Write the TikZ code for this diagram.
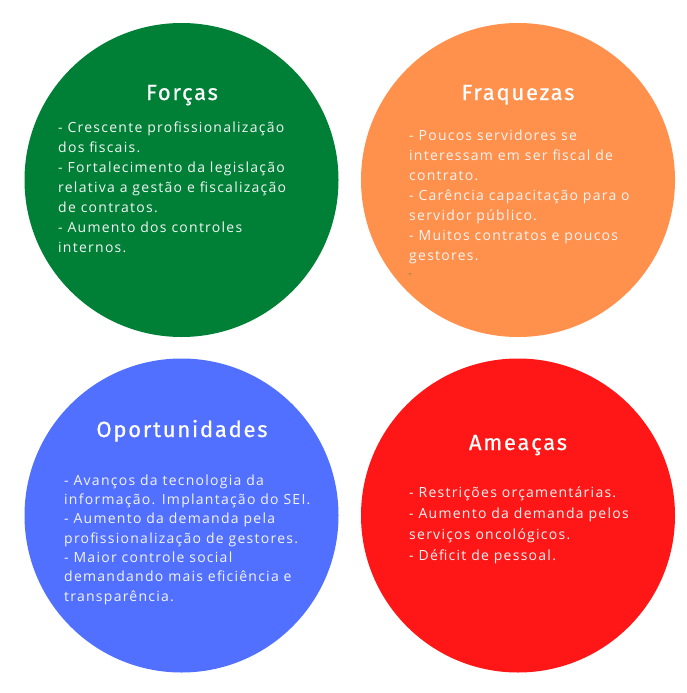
\documentclass[tikz,border=0pt]{standalone}
\usepackage{fontspec}
\setmainfont{Open Sans}
\newfontfamily\titlefont[LetterSpace=8,FakeBold=0.6]{Fira Sans}
\newfontfamily\bodyfont[LetterSpace=9]{Open Sans}
\definecolor{cgreen}{HTML}{008037}
\definecolor{corange}{HTML}{FF914D}
\definecolor{cblue}{HTML}{5170FF}
\definecolor{cred}{HTML}{FF1616}
\definecolor{ctext}{HTML}{F4F4F4}
\begin{document}
\begin{tikzpicture}[x=1pt,y=-1pt,
  disc/.style={circle, minimum size=314pt, inner sep=0pt, draw=none},
  ttl/.style={font=\titlefont\fontsize{22}{26}\selectfont, text=white, inner sep=0pt, anchor=base},
  body/.style={font=\bodyfont\fontsize{14}{20}\selectfont, text=ctext, align=left, inner sep=0pt, anchor=north west}]
\useasboundingbox[fill=white] (0,0) rectangle (686,693);
\node[disc, fill=cgreen]  (forcas) at (181.5,180) {};
\node[disc, fill=corange] (fraq)   at (518,180) {};
\node[disc, fill=cblue]   (oport)  at (181.5,515.5) {};
\node[disc, fill=cred]    (ameac)  at (518,515.5) {};

\node[ttl] (tforcas) at (182,100) {Forças};
\node[ttl] (tfraq)   at (518,100) {Fraquezas};
\node[ttl] (toport)  at (182,437) {Oportunidades};
\node[ttl] (tameac)  at (518,450) {Ameaças};

\node[body] (bforcas) at (58,121.3) {- Crescente profissionalização\\dos fiscais.\\- Fortalecimento da legislação\\relativa a gestão e fiscalização\\de contratos.\\- Aumento dos controles\\internos.};
\node[body] (bfraq) at (409,129.3) {- Poucos servidores se\\interessam em ser fiscal de\\contrato.\\- Carência capacitação para o\\servidor público.\\- Muitos contratos e poucos\\gestores.};
\node[inner sep=0pt, anchor=west, text=cgreen, font=\fontsize{8}{8}\selectfont] (dash) at (408.5,275) {-};
\node[body, font=\bodyfont\fontsize{14}{19.3}\selectfont] (boport) at (64,474.5) {- Avanços da tecnologia da\\informação. Implantação do SEI.\\- Aumento da demanda pela\\profissionalização de gestores.\\- Maior controle social\\demandando mais eficiência e\\transparência.};
\node[body, font=\bodyfont\fontsize{14}{21}\selectfont] (bameac) at (409,486.3) {- Restrições orçamentárias.\\- Aumento da demanda pelos\\serviços oncológicos.\\- Déficit de pessoal.};
\end{tikzpicture}
\end{document}
